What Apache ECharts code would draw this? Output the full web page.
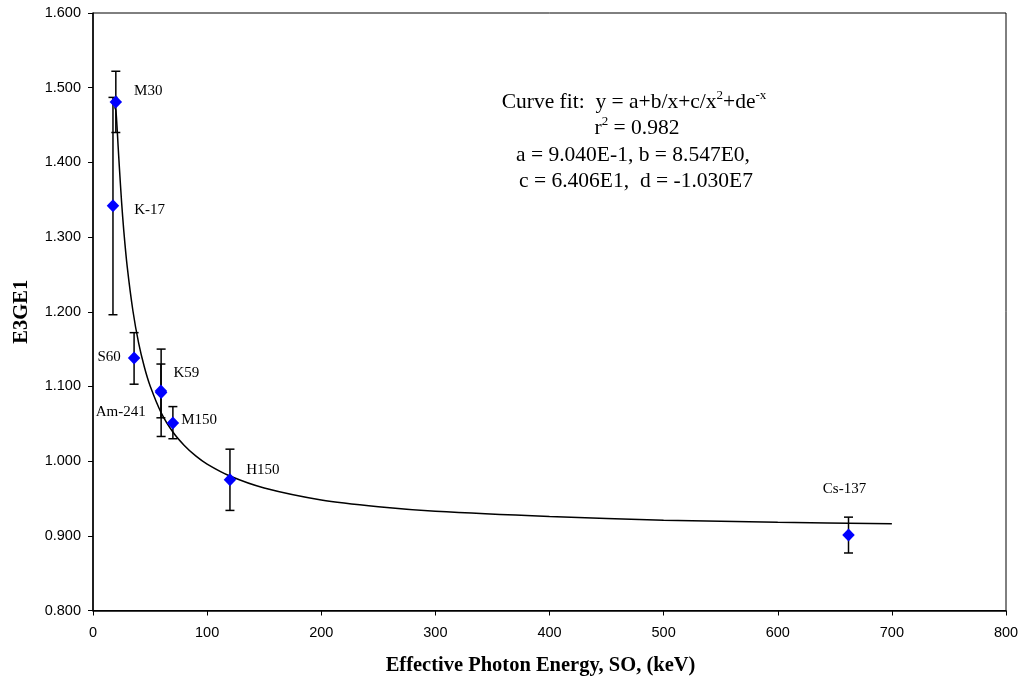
<!DOCTYPE html>
<html>
<head>
<meta charset="utf-8">
<script src="https://cdn.jsdelivr.net/npm/echarts@6/dist/echarts.min.js"></script>
<style>html,body{margin:0;padding:0;background:#fff}#c{width:1023px;height:678px}</style>
</head>
<body>
<div id="c"></div>
<script>
// ---- data ----
const sources   = ['M30', 'K-17', 'S60', 'K59', 'Am-241', 'M150', 'H150', 'Cs-137'];
const energies  = [20, 17.5, 36, 59.7, 59.5, 70, 120, 662];
const responses = [1.481, 1.342, 1.138, 1.092, 1.094, 1.051, 0.975, 0.901];
const errLow    = [1.440, 1.196, 1.103, 1.033, 1.058, 1.030, 0.934, 0.877];
const errHigh   = [1.522, 1.487, 1.172, 1.150, 1.130, 1.073, 1.016, 0.925];
// fitted curve
const fitX = [19, 20, 21, 22, 23, 25, 27, 30, 35, 40, 45, 50, 60, 70, 80, 90, 100, 120, 150, 200, 250, 300, 400, 500, 600, 700];
const fitY = [1.474, 1.470, 1.449, 1.422, 1.396, 1.348, 1.308, 1.260, 1.201, 1.158, 1.126, 1.101, 1.064, 1.039, 1.021, 1.007, 0.996, 0.980, 0.964, 0.948, 0.939, 0.933, 0.926, 0.921, 0.918, 0.916];
const xTicks = [0, 100, 200, 300, 400, 500, 600, 700, 800];
const yTicks = [0.8, 0.9, 1.0, 1.1, 1.2, 1.3, 1.4, 1.5, 1.6];
const fitText = [
  '{n|Curve fit:  y = a+b/x+c/x}{s|2}{n|+de}{s|-x}',
  '{n|r}{s|2}{n| = 0.982}',
  '{n|a = 9.040E-1, b = 8.547E0,}',
  '{n|c = 6.406E1,  d = -1.030E7}'
];

// ---- label placement (style only) ----
const labelPlace = {
  'M30':    {position: 'right', distance: 12, offset: [0, -11]},
  'K-17':   {position: 'right', distance: 15, offset: [0, 4]},
  'S60':    {position: 'left',  distance: 7,  offset: [0, -1]},
  'K59':    {position: 'right', distance: 6,  offset: [0, -19]},
  'Am-241': {position: 'left',  distance: 9,  offset: [0, 21]},
  'M150':   {position: 'right', distance: 2,  offset: [0, -3]},
  'H150':   {position: 'right', distance: 10, offset: [0, -10]},
  'Cs-137': {position: 'top',   distance: 32, offset: [-4, 0]}
};
const textPlace = [{x: 634, y: 102.5}, {x: 637, y: 128.5}, {x: 633, y: 155}, {x: 636, y: 181}];

const serif = '"Liberation Serif", "Times New Roman", serif';
const sans = '"Liberation Sans", Arial, sans-serif';

const pointData = sources.map((s, i) => ({
  value: [energies[i], responses[i]],
  name: s,
  label: Object.assign({show: true, formatter: s, color: '#000', fontFamily: serif, fontSize: 15, opacity: 1}, labelPlace[s])
}));
const errData = sources.map((s, i) => [energies[i], errLow[i], errHigh[i]]);
const fitData = fitX.map((x, i) => [x, fitY[i]]);

const chart = echarts.init(document.getElementById('c'), null, {renderer: 'canvas'});

const richStyle = {
  n: {fontFamily: serif, fontSize: 21.5, color: '#000', lineHeight: 26},
  s: {fontFamily: serif, fontSize: 13, color: '#000', lineHeight: 26, verticalAlign: 'top', padding: [0, 0, 10, 0]}
};

chart.setOption({
  animation: false,
  backgroundColor: '#fff',
  grid: {left: 93, top: 13, right: 17, bottom: 67.5, outerBoundsMode: 'none', containLabel: false,
         show: true, borderColor: '#000', borderWidth: 1, backgroundColor: 'transparent'},
  xAxis: {
    type: 'value', min: xTicks[0], max: xTicks[xTicks.length - 1], interval: 100,
    name: 'Effective Photon Energy, SO, (keV)', nameLocation: 'middle', nameGap: 45,
    nameTextStyle: {fontFamily: serif, fontWeight: 'bold', fontSize: 20.5, color: '#000', padding: [0, 18, 0, 0]},
    axisLine: {show: true, onZero: false, lineStyle: {color: '#000', width: 1.5}},
    axisTick: {show: true, length: 5, lineStyle: {color: '#000'}},
    axisLabel: {fontFamily: sans, fontSize: 14.5, color: '#000', margin: 15},
    splitLine: {show: false}
  },
  yAxis: {
    type: 'value', min: yTicks[0], max: yTicks[yTicks.length - 1], interval: 0.1,
    name: 'E3GE1', nameLocation: 'middle', nameGap: 61,
    nameTextStyle: {fontFamily: serif, fontWeight: 'bold', fontSize: 20.5, color: '#000'},
    axisLine: {show: true, onZero: false, lineStyle: {color: '#000', width: 1.5}},
    axisTick: {show: true, length: 5, lineStyle: {color: '#000'}},
    axisLabel: {fontFamily: sans, fontSize: 14.5, color: '#000', margin: 12, formatter: v => v.toFixed(3)},
    splitLine: {show: false}
  },
  series: [
    {
      type: 'line', data: fitData, smooth: 0.3, showSymbol: false, symbol: 'none',
      lineStyle: {color: '#000', width: 1.5}, z: 2, silent: true
    },
    {
      type: 'custom', data: errData, z: 3, silent: true,
      encode: {x: 0, y: [1, 2]},
      renderItem: function (params, api) {
        const x = api.value(0);
        const lo = api.coord([x, api.value(1)]);
        const hi = api.coord([x, api.value(2)]);
        const w = 4.5;
        const st = {stroke: '#000', lineWidth: 1.5};
        return {
          type: 'group',
          children: [
            {type: 'line', shape: {x1: lo[0], y1: lo[1], x2: hi[0], y2: hi[1]}, style: st},
            {type: 'line', shape: {x1: lo[0] - w, y1: lo[1], x2: lo[0] + w, y2: lo[1]}, style: st},
            {type: 'line', shape: {x1: hi[0] - w, y1: hi[1], x2: hi[0] + w, y2: hi[1]}, style: st}
          ]
        };
      }
    },
    {
      type: 'scatter', data: pointData, symbol: 'diamond', symbolSize: [12.5, 13], z: 4,
      itemStyle: {color: '#0000FF', opacity: 1},
      label: {fontFamily: serif, fontSize: 15, color: '#000'}
    }
  ],
  graphic: fitText.map((t, i) => ({
    type: 'text', z: 10, silent: true,
    x: textPlace[i].x, y: textPlace[i].y,
    style: {text: t, align: 'center', verticalAlign: 'middle', rich: richStyle}
  }))
});
</script>
</body>
</html>
